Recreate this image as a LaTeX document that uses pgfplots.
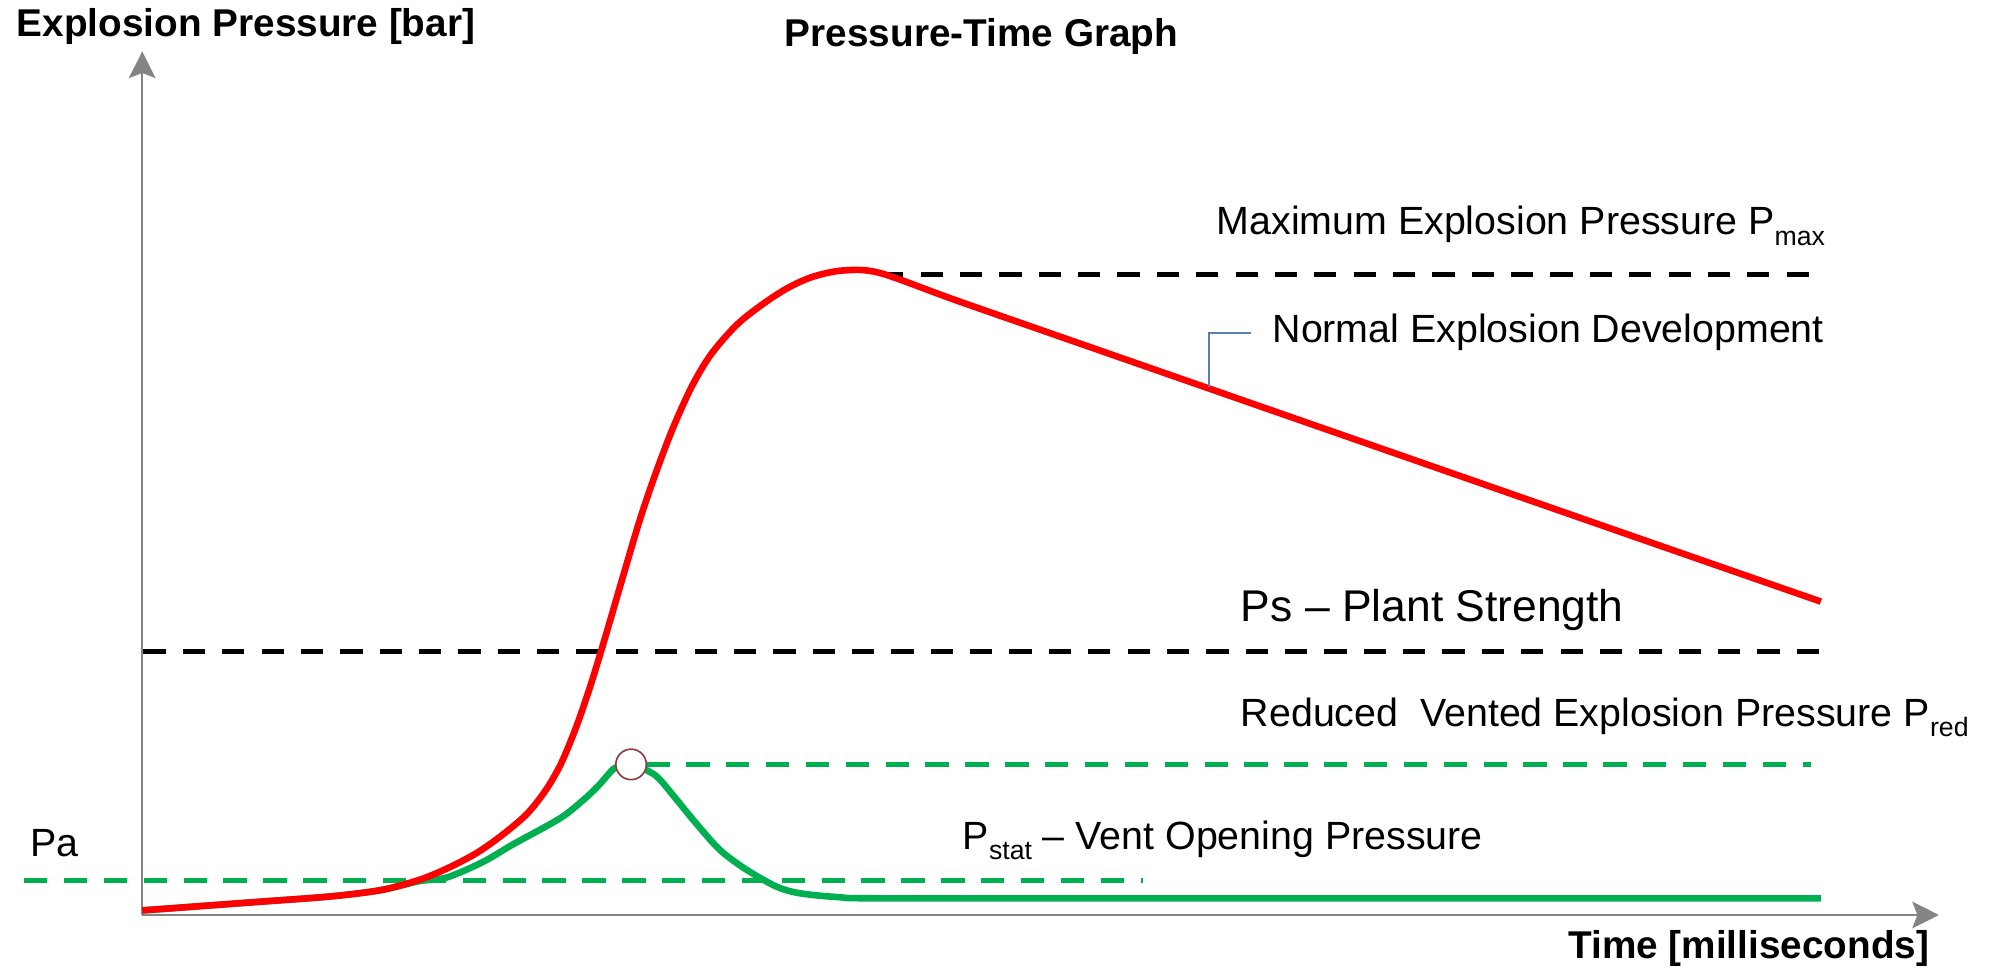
\documentclass[border=0pt]{standalone}
\usepackage{fontspec}
\setmainfont{Liberation Sans}
\usepackage{pgfplots}
\pgfplotsset{compat=1.18}
\usetikzlibrary{arrows.meta}
\definecolor{redc}{HTML}{FF0000}
\definecolor{greenc}{HTML}{00B050}
\definecolor{axisgray}{HTML}{858585}
\definecolor{circedge}{HTML}{8E3B46}
\definecolor{callout}{HTML}{5A7FB5}
\newcommand{\reg}{\fontsize{31}{36}\selectfont}
\newcommand{\bld}{\fontsize{30.5}{36}\selectfont\bfseries}
\newcommand{\sub}[1]{\raisebox{-8pt}{\fontsize{21}{21}\selectfont #1}}
\begin{document}
\begin{tikzpicture}
\begin{axis}[scale only axis, width=1568pt, height=769pt,
  xmin=0, xmax=1568, ymin=0, ymax=769, hide axis, clip=false]
\path (axis cs:0,0) rectangle (axis cs:1568,769);
% axes
\draw[axisgray, line width=1.7pt, -{Stealth[length=21pt, width=21pt, inset=4pt]}] (axis cs:112,48.4) -- (axis cs:112,728.5);
\draw[axisgray, line width=1.7pt, -{Stealth[length=21pt, width=21pt, inset=4pt]}] (axis cs:112,48.4) -- (axis cs:1527,48.4);
% reference lines
\addplot[black, line width=4pt, dash pattern=on 17.5pt off 13.5pt] coordinates {(694,553) (1433,553)};
\addplot[black, line width=4pt, dash pattern=on 17.5pt off 13.5pt] coordinates {(113,256) (1435,256)};
\addplot[greenc, line width=4pt, dash pattern=on 18.4pt off 13pt] coordinates {(509,167) (1426,167)};
% green vented curve
\addplot[greenc, line width=5.2pt, smooth, tension=0.5] coordinates {
(112,52) (200,58.5) (260,63) (300,68) (330,75) (352,78) (380,90) (404,104) (441,124.5)
(460,139.5) (472,151) (484,164) (497,167.5) (510,162) (520,154.7) (546,123.2)
(567,99.6) (588,84) (611.6,70.7) (630,65.5) (660,62.5) (700,61.5) (1000,61.5) (1434,61.5)};
\addplot[greenc, line width=4pt, dash pattern=on 18.4pt off 13pt] coordinates {(19,75.5) (900,75.5)};
% red normal explosion curve
\addplot[redc, line width=5.2pt, smooth, tension=0.5] coordinates {
(112,52) (200,58.5) (260,63) (300,68) (330,76) (352,85) (375,97) (395,111) (415,128)
(430,147) (442,168) (454,197) (465,229) (476,265) (488,306) (504,360) (517,398)
(530,432) (545,465) (560,490) (580,513) (600,529) (620,542) (640,551) (664,556)
(693,554) (756,531.4) (900,481.2) (1100,411.5) (1300,341.8) (1434,295.2)};
% vent opening marker
\addplot[only marks, mark=*, mark size=12pt, mark options={fill=white, draw=circedge, line width=1.3pt}] coordinates {(497,167)};
% callout
\draw[callout, line width=1.3pt] (axis cs:952,464) -- (axis cs:952,507) -- (axis cs:985,507);
% texts
\node[anchor=base west, inner sep=0, font=\bld] at (axis cs:13,740) {Explosion Pressure [bar]};
\node[anchor=base west, inner sep=0, font=\bld] at (axis cs:618,732) {Pressure-Time Graph};
\node[anchor=base west, inner sep=0, font=\bld] at (axis cs:1235,14.5) {Time [milliseconds]};
\node[anchor=base west, inner sep=0, font=\reg] at (axis cs:958,584) {Maximum Explosion Pressure P\sub{max}};
\node[anchor=base west, inner sep=0, font=\reg] at (axis cs:1002,499) {Normal Explosion Development};
\node[anchor=base west, inner sep=0, font=\fontsize{35}{40}\selectfont] at (axis cs:977,279.4) {Ps -- Plant Strength};
\node[anchor=base west, inner sep=0, font=\reg] at (axis cs:977,196.7) {Reduced\ \ Vented Explosion Pressure P\sub{red}};
\node[anchor=base west, inner sep=0, font=\reg] at (axis cs:758,100) {P\sub{stat} -- Vent Opening Pressure};
\node[anchor=base west, inner sep=0, font=\reg] at (axis cs:24,94.4) {Pa};
\end{axis}
\end{tikzpicture}
\end{document}
